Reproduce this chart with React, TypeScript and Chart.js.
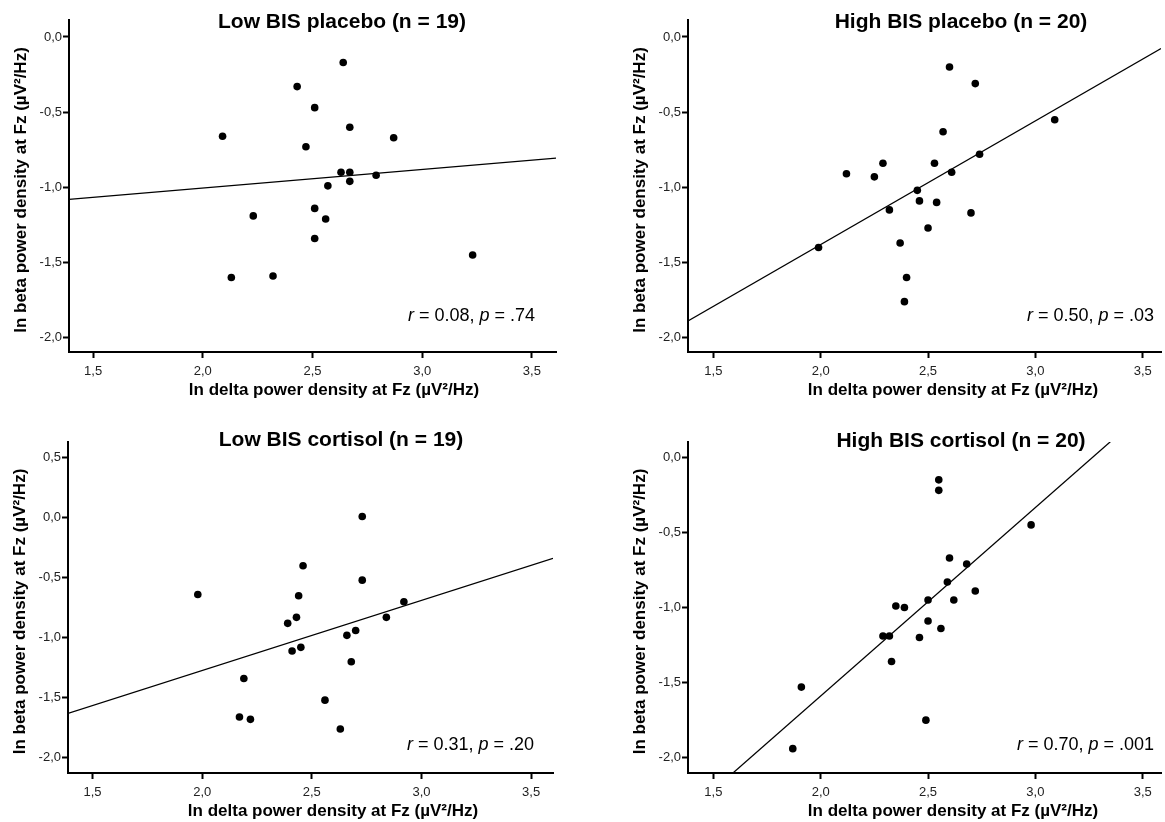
import React, { useEffect, useRef } from 'react';
import { Chart, registerables } from 'chart.js';

Chart.register(...registerables);

const FONT = '"Liberation Sans", Arial, Helvetica, sans-serif';
Chart.defaults.font.family = FONT;

// ---------------- data ----------------
const LOW_PLACEBO_DELTA = [2.64, 2.43, 2.51, 2.67, 2.09, 2.87, 2.47, 2.63, 2.67, 2.79, 2.57, 2.67, 2.51, 2.23, 2.56, 2.51, 3.23, 2.13, 2.32];
const LOW_PLACEBO_BETA = [-0.17, -0.33, -0.47, -0.60, -0.66, -0.67, -0.73, -0.90, -0.90, -0.92, -0.99, -0.96, -1.14, -1.19, -1.21, -1.34, -1.45, -1.60, -1.59];
const LOW_PLACEBO_FIT_X = [1.39, 3.61];
const LOW_PLACEBO_FIT_Y = [-1.08, -0.805];

const HIGH_PLACEBO_DELTA = [2.60, 2.72, 3.09, 2.57, 2.74, 2.12, 2.29, 2.25, 2.53, 2.61, 2.45, 2.46, 2.54, 2.32, 2.70, 2.50, 2.37, 1.99, 2.40, 2.39];
const HIGH_PLACEBO_BETA = [-0.20, -0.31, -0.55, -0.63, -0.78, -0.91, -0.84, -0.93, -0.84, -0.90, -1.02, -1.09, -1.10, -1.15, -1.17, -1.27, -1.37, -1.40, -1.60, -1.76];
const HIGH_PLACEBO_FIT_X = [1.382, 3.585];
const HIGH_PLACEBO_FIT_Y = [-1.889, -0.077];

const LOW_CORTISOL_DELTA = [2.73, 2.46, 2.73, 1.98, 2.44, 2.92, 2.43, 2.84, 2.39, 2.70, 2.66, 2.45, 2.41, 2.68, 2.19, 2.56, 2.17, 2.22, 2.63];
const LOW_CORTISOL_BETA = [0.01, -0.40, -0.52, -0.64, -0.65, -0.70, -0.83, -0.83, -0.88, -0.94, -0.98, -1.08, -1.11, -1.20, -1.34, -1.52, -1.66, -1.68, -1.76];
const LOW_CORTISOL_FIT_X = [1.388, 3.6];
const LOW_CORTISOL_FIT_Y = [-1.63, -0.338];

const HIGH_CORTISOL_DELTA = [2.55, 2.55, 2.98, 2.60, 2.68, 2.59, 2.72, 2.50, 2.62, 2.35, 2.39, 2.50, 2.56, 2.29, 2.32, 2.46, 2.33, 1.91, 2.49, 1.87];
const HIGH_CORTISOL_BETA = [-0.15, -0.22, -0.45, -0.67, -0.71, -0.83, -0.89, -0.95, -0.95, -0.99, -1.00, -1.09, -1.14, -1.19, -1.19, -1.20, -1.36, -1.53, -1.75, -1.94];
const HIGH_CORTISOL_FIT_X = [1.59, 3.349];
const HIGH_CORTISOL_FIT_Y = [-2.104, 0.104];

const X_TICK_VALUES = [1.5, 2.0, 2.5, 3.0, 3.5];
const X_TICK_LABELS = ['1,5', '2,0', '2,5', '3,0', '3,5'];
const Y_TICK_VALUES = [-2.0, -1.5, -1.0, -0.5, 0.0];
const Y_TICK_LABELS = ['-2,0', '-1,5', '-1,0', '-0,5', '0,0'];
const Y_TICK_VALUES_WIDE = [-2.0, -1.5, -1.0, -0.5, 0.0, 0.5];
const Y_TICK_LABELS_WIDE = ['-2,0', '-1,5', '-1,0', '-0,5', '0,0', '0,5'];

const PANEL_TITLES = ['Low BIS placebo (n = 19)', 'High BIS placebo (n = 20)', 'Low BIS cortisol (n = 19)', 'High BIS cortisol (n = 20)'];
const R_VALUES = ['0.08', '0.50', '0.31', '0.70'];
const P_VALUES = ['.74', '.03', '.20', '.001'];
const X_TITLE = 'ln delta power density at Fz (\u00b5V\u00b2/Hz)';
const Y_TITLE = 'ln beta power density at Fz (\u00b5V\u00b2/Hz)';

// ---------------- text plugin ----------------
const panelTextPlugin = {
  id: 'panelText',
  afterDraw(chart: any, _args: any, opts: any) {
    const { ctx, chartArea: a } = chart;
    ctx.save();
    ctx.fillStyle = '#000';
    ctx.textAlign = 'center';
    ctx.textBaseline = 'alphabetic';
    ctx.font = `bold 21px ${FONT}`;
    ctx.fillText(opts.title, a.left + 273, opts.titleBaseline);

    ctx.font = `bold 17px ${FONT}`;
    ctx.fillText(X_TITLE, a.left + 265, a.bottom + 43);

    ctx.save();
    ctx.translate(a.left - 43, (a.top + a.bottom) / 2 + 4);
    ctx.rotate(-Math.PI / 2);
    ctx.fillText(Y_TITLE, 0, 0);
    ctx.restore();

    const parts = [
      { text: 'r', italic: true },
      { text: ` = ${opts.r}, `, italic: false },
      { text: 'p', italic: true },
      { text: ` = ${opts.p}`, italic: false },
    ];
    ctx.textAlign = 'left';
    const widths = parts.map((p) => {
      ctx.font = `${p.italic ? 'italic ' : ''}18px ${FONT}`;
      return ctx.measureText(p.text).width;
    });
    const total = widths.reduce((s, w) => s + w, 0);
    let x = a.left + 466 - total;
    parts.forEach((p, i) => {
      ctx.font = `${p.italic ? 'italic ' : ''}18px ${FONT}`;
      ctx.fillText(p.text, x, opts.statBaseline);
      x += widths[i];
    });
    ctx.restore();
  },
};

type PanelProps = {
  idx: number;
  left: number;
  top: number;
  width: number;
  height: number;
  padTop: number;
  padRight: number;
  yAxisWidth: number;
  xAxisHeight: number;
  xMin: number;
  xMax: number;
  yMin: number;
  yMax: number;
  xs: number[];
  ys: number[];
  fitX: number[];
  fitY: number[];
  yTicks: number[];
  yLabels: string[];
  titleBaseline: number;
  statBaseline: number;
};

function Panel(props: PanelProps) {
  const ref = useRef<HTMLCanvasElement | null>(null);
  useEffect(() => {
    if (!ref.current) return;
    const points = props.xs.map((x, i) => ({ x, y: props.ys[i] }));
    const fit = props.fitX.map((x, i) => ({ x, y: props.fitY[i] }));
    const chart = new Chart(ref.current, {
      type: 'scatter',
      data: {
        datasets: [
          {
            data: points,
            pointRadius: 3.8,
            pointBackgroundColor: '#000',
            pointBorderWidth: 0,
            showLine: false,
          },
          {
            data: fit,
            showLine: true,
            pointRadius: 0,
            borderColor: '#000',
            borderWidth: 1.2,
            fill: false,
          },
        ],
      } as any,
      options: {
        animation: false,
        responsive: false,
        events: [],
        layout: { padding: { top: props.padTop, left: 0, right: props.padRight, bottom: 0 } },
        plugins: {
          legend: { display: false },
          tooltip: { enabled: false },
          panelText: {
            title: PANEL_TITLES[props.idx],
            r: R_VALUES[props.idx],
            p: P_VALUES[props.idx],
            titleBaseline: props.titleBaseline,
            statBaseline: props.statBaseline,
          },
        } as any,
        scales: {
          x: {
            type: 'linear',
            position: 'bottom',
            min: props.xMin,
            max: props.xMax,
            afterFit: (s: any) => {
              s.height = props.xAxisHeight;
            },
            afterBuildTicks: (s: any) => {
              s.ticks = X_TICK_VALUES.map((v) => ({ value: v }));
            },
            ticks: {
              callback: (_v: any, i: number) => X_TICK_LABELS[i],
              font: { size: 13, family: FONT },
              color: '#222',
              padding: 6,
              maxRotation: 0,
              autoSkip: false,
            },
            grid: {
              display: true,
              drawOnChartArea: false,
              drawTicks: true,
              tickLength: 6,
              tickWidth: 2,
              tickColor: '#000',
            },
            border: { display: true, color: '#000', width: 2 },
          },
          y: {
            type: 'linear',
            position: 'left',
            min: props.yMin,
            max: props.yMax,
            afterFit: (s: any) => {
              s.width = props.yAxisWidth;
            },
            afterBuildTicks: (s: any) => {
              s.ticks = props.yTicks.map((v) => ({ value: v }));
            },
            ticks: {
              callback: (_v: any, i: number) => props.yLabels[i],
              font: { size: 13, family: FONT },
              color: '#222',
              padding: 1,
              autoSkip: false,
            },
            grid: {
              display: true,
              drawOnChartArea: false,
              drawTicks: true,
              tickLength: 6,
              tickWidth: 2,
              tickColor: '#000',
            },
            border: { display: true, color: '#000', width: 2 },
          },
        },
      } as any,
      plugins: [panelTextPlugin as any],
    });
    return () => chart.destroy();
  }, []);
  return (
    <canvas
      ref={ref}
      width={props.width}
      height={props.height}
      style={{ position: 'absolute', left: props.left, top: props.top, width: props.width, height: props.height }}
    />
  );
}

export default function App() {
  return (
    <div style={{ position: 'fixed', left: 0, top: 0, width: 1165, height: 822, background: '#fff', overflow: 'hidden' }}>
      <Panel
        idx={0}
        left={0}
        top={0}
        width={580}
        height={405}
        padTop={20}
        padRight={24}
        yAxisWidth={69}
        xAxisHeight={53}
        xMin={1.39}
        xMax={3.61}
        yMin={-2.095}
        yMax={0.113}
        xs={LOW_PLACEBO_DELTA}
        ys={LOW_PLACEBO_BETA}
        fitX={LOW_PLACEBO_FIT_X}
        fitY={LOW_PLACEBO_FIT_Y}
        yTicks={Y_TICK_VALUES}
        yLabels={Y_TICK_LABELS}
        titleBaseline={27.5}
        statBaseline={321}
      />
      <Panel
        idx={1}
        left={580}
        top={0}
        width={585}
        height={405}
        padTop={20}
        padRight={0}
        yAxisWidth={108}
        xAxisHeight={53}
        xMin={1.382}
        xMax={3.585}
        yMin={-2.095}
        yMax={0.113}
        xs={HIGH_PLACEBO_DELTA}
        ys={HIGH_PLACEBO_BETA}
        fitX={HIGH_PLACEBO_FIT_X}
        fitY={HIGH_PLACEBO_FIT_Y}
        yTicks={Y_TICK_VALUES}
        yLabels={Y_TICK_LABELS}
        titleBaseline={27.5}
        statBaseline={321}
      />
      <Panel
        idx={2}
        left={0}
        top={400}
        width={580}
        height={422}
        padTop={42}
        padRight={27}
        yAxisWidth={68}
        xAxisHeight={49}
        xMin={1.388}
        xMax={3.6}
        yMin={-2.127}
        yMax={0.631}
        xs={LOW_CORTISOL_DELTA}
        ys={LOW_CORTISOL_BETA}
        fitX={LOW_CORTISOL_FIT_X}
        fitY={LOW_CORTISOL_FIT_Y}
        yTicks={Y_TICK_VALUES_WIDE}
        yLabels={Y_TICK_LABELS_WIDE}
        titleBaseline={46}
        statBaseline={350}
      />
      <Panel
        idx={3}
        left={580}
        top={400}
        width={585}
        height={422}
        padTop={42}
        padRight={0}
        yAxisWidth={108}
        xAxisHeight={49}
        xMin={1.382}
        xMax={3.585}
        yMin={-2.102}
        yMax={0.102}
        xs={HIGH_CORTISOL_DELTA}
        ys={HIGH_CORTISOL_BETA}
        fitX={HIGH_CORTISOL_FIT_X}
        fitY={HIGH_CORTISOL_FIT_Y}
        yTicks={Y_TICK_VALUES}
        yLabels={Y_TICK_LABELS}
        titleBaseline={46.5}
        statBaseline={350}
      />
    </div>
  );
}
